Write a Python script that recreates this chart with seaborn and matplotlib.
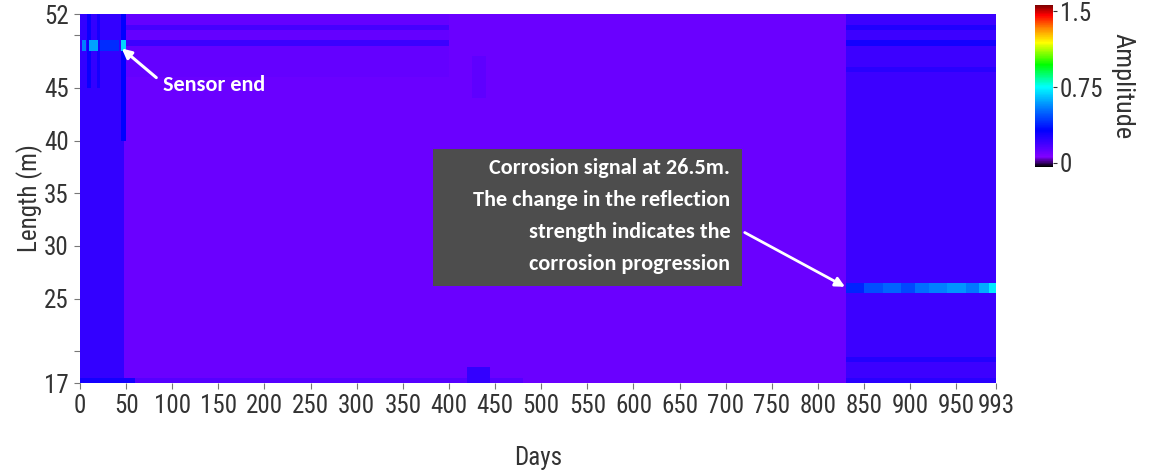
import numpy as np
import matplotlib
matplotlib.use("Agg")
import matplotlib.pyplot as plt
from matplotlib.colors import LinearSegmentedColormap
from matplotlib.patches import Rectangle
import seaborn as sns

# grid of the scan: 0.5 m along the cable, 1 day per column
LEN_TOP, LEN_BOTTOM, LEN_STEP = 52.0, 17.0, 0.5
N_DAYS = 993

# patches of amplitude, applied in order
# (day start, day end, length low, length high, amplitude)
patch_day0 = [0,    0,    830,  48,    48,   48,   830,  830,  830,  830,  0,    60,   420,  830,  425,  8,    18,   44,   2,    10,   22,   44]
patch_day1 = [993,  48,   993,  400,   400,  400,  993,  993,  993,  993,  60,   480,  445,  993,  440,  12,   22,   50,   6,    20,   42,   50]
patch_len0 = [17,   17,   17,   46,    50.3, 48.8, 50.3, 48.8, 46.5, 19.0, 17,   17,   17,   17,   44,   45,   45,   40,   48.5, 48.5, 48.5, 48.5]
patch_len1 = [52,   52,   52,   52,    50.8, 49.3, 50.8, 49.3, 47.0, 19.5, 17.5, 17.5, 18.5, 17.5, 48,   52,   52,   52,   49.5, 49.5, 49.5, 49.5]
patch_amp  = [0.11, 0.22, 0.20, 0.12,  0.18, 0.20, 0.26, 0.28, 0.24, 0.25, 0.28, 0.15, 0.22, 0.24, 0.13, 0.30, 0.28, 0.32, 0.55, 0.60, 0.40, 0.68]

# corrosion reflection at 25.5-26.5 m, growing with time
corr_days = [830, 850, 870, 890, 905, 920, 940, 960, 975, 985, 993]
corr_amp = [0.38, 0.46, 0.50, 0.45, 0.52, 0.55, 0.58, 0.54, 0.62, 0.72]
corr_len = (25.5, 26.5)

x_ticks = [t for t in range(0, 1000, 50) if t <= 993] + [993]
x_labels = [str(t) for t in x_ticks]
y_ticks = [52, 50, 45, 40, 35, 30, 25, 20, 17]
y_labels = ["52", "", "45", "40", "35", "30", "25", "", "17"]

# colour scale of the figure (amplitude -> colour)
cmap_amp = [-0.04, 0.0, 0.06, 0.32, 0.55, 0.75, 0.97, 1.19, 1.34, 1.46, 1.56]
cmap_col = ["#000000", "#3a0070", "#8000ff", "#0000ff", "#0080ff", "#00ffff",
            "#00ff00", "#ffff00", "#ff8000", "#ff0000", "#800000"]
VMIN, VMAX = cmap_amp[0], cmap_amp[-1]

n_rows = int(round((LEN_TOP - LEN_BOTTOM) / LEN_STEP))
row_len = LEN_TOP - LEN_STEP * (np.arange(n_rows) + 0.5)


def rows_between(l0, l1):
    return (row_len > l0) & (row_len < l1)


amp = np.zeros((n_rows, N_DAYS))
for d0, d1, l0, l1, a in zip(patch_day0, patch_day1, patch_len0, patch_len1, patch_amp):
    amp[rows_between(l0, l1), d0:d1] = a
rr = rows_between(*corr_len)
for i, a in enumerate(corr_amp):
    amp[rr, corr_days[i]:corr_days[i + 1]] = a


def ypos(length):
    return (LEN_TOP - length) / LEN_STEP


nodes = [(v - VMIN) / (VMAX - VMIN) for v in cmap_amp]
cmap = LinearSegmentedColormap.from_list("amp", list(zip(nodes, cmap_col)))

sns.set_style("ticks")
plt.rcParams["font.family"] = ["Roboto Condensed", "DejaVu Sans"]
NOTE_FONT = ["Carlito", "Lato", "DejaVu Sans"]
TXT = "#333333"

fig = plt.figure(figsize=(11.53, 4.71), dpi=100)
ax = fig.add_axes([0.0694, 0.1868, 0.7944, 0.7834])
cax = fig.add_axes([0.8977, 0.6454, 0.0156, 0.3440])

sns.heatmap(amp, ax=ax, cbar_ax=cax, cmap=cmap, vmin=VMIN, vmax=VMAX,
            xticklabels=False, yticklabels=False,
            cbar_kws={"ticks": [0, 0.75, 1.5]})

ax.set_xticks(x_ticks)
ax.set_xticklabels(x_labels, rotation=0)
ax.set_yticks([ypos(v) for v in y_ticks])
ax.set_yticklabels(y_labels, rotation=0)
ax.tick_params(axis="both", labelsize=18, colors=TXT, length=4,
               width=0.8, pad=4)
ax.tick_params(axis="both", color="#777777")
ax.set_xlabel("Days", fontsize=18, color=TXT, labelpad=20)
ax.set_ylabel("Length (m)", fontsize=18, color=TXT, labelpad=1)

cax.set_yticklabels(["0", "0.75", "1.5"])
cax.tick_params(labelsize=18, colors=TXT, length=3, pad=2)
cax.set_ylabel("Amplitude", fontsize=19, color=TXT, rotation=270,
               labelpad=22)

# annotations
ax.annotate("", xy=(43, ypos(48.9)), xytext=(85, ypos(45.8)),
            arrowprops=dict(arrowstyle="-|>", color="white", lw=2.2,
                            mutation_scale=14))
ax.text(90, ypos(45.3), "Sensor end", color="white", fontsize=16,
        fontweight="bold", family=NOTE_FONT, ha="left", va="center")

ax.add_patch(Rectangle((383, ypos(39.2)), 718 - 383, ypos(26.25) - ypos(39.2),
                       facecolor="#4d4d4d", edgecolor="none", zorder=3))
ax.text(705, ypos(32.8),
        "Corrosion signal at 26.5m.\nThe change in the reflection\n"
        "strength indicates the\ncorrosion progression",
        color="white", fontsize=16, fontweight="bold", family=NOTE_FONT,
        ha="right", va="center", linespacing=1.75, zorder=4)
ax.annotate("", xy=(832, ypos(26.0)), xytext=(718, ypos(31.4)),
            arrowprops=dict(arrowstyle="-|>", color="white", lw=2.0,
                            mutation_scale=14), zorder=5)

fig.savefig("out.png", dpi=100)
